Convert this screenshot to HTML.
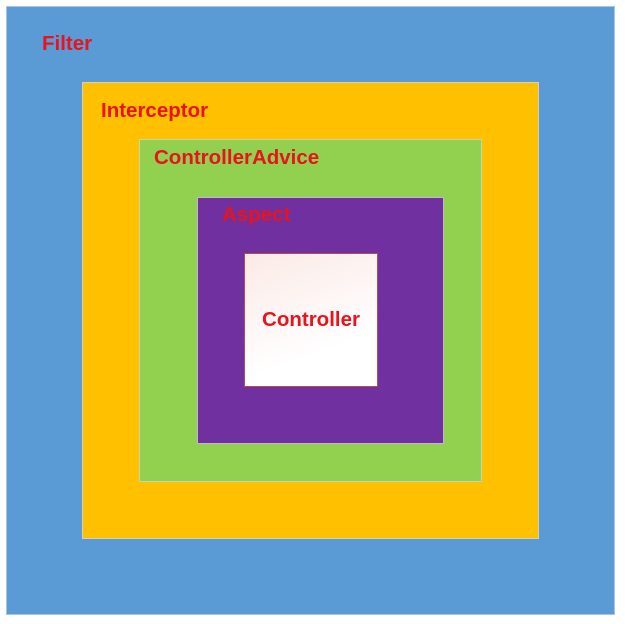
<!DOCTYPE html>
<html><head><style>
body{margin:0;width:625px;height:624px;background:#fff;position:relative;overflow:hidden;font-family:"Liberation Sans",sans-serif;}
div{position:absolute;box-sizing:border-box;}
.t{color:#e8131b;font-weight:bold;font-size:20.5px;white-space:nowrap;line-height:22px;}
</style></head><body>
<div style="left:6px;top:6px;width:609px;height:609px;background:#5b9bd5;border:1px solid #a9c4e0"></div>
<div style="left:82px;top:82px;width:457px;height:457px;background:#ffc000;border:1px solid #d8d0b8"></div>
<div style="left:139px;top:139px;width:343px;height:343px;background:#92d050;border:1px solid #c8d0c0"></div>
<div style="left:197px;top:197px;width:247px;height:247px;background:#7030a0;border:1px solid #c0b8c8"></div>
<div style="left:244px;top:253px;width:134px;height:134px;background:linear-gradient(160deg,#fbeae6,#ffffff 70%);border:1px solid #b0504a"></div>
<div class="t" style="left:42px;top:33px">Filter</div>
<div class="t" style="left:101px;top:100px">Interceptor</div>
<div class="t" style="left:154px;top:147px">ControllerAdvice</div>
<div class="t" style="left:222px;top:204px">Aspect</div>
<div class="t" style="left:244px;top:309px;width:134px;text-align:center">Controller</div>
</body></html>
